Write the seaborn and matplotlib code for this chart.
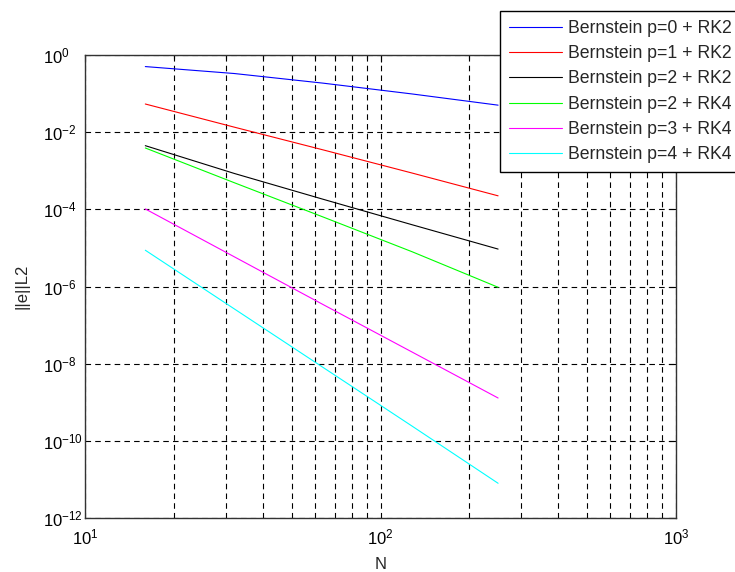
import numpy as np
import pandas as pd
import matplotlib
matplotlib.use('Agg')
import matplotlib.pyplot as plt
import matplotlib.ticker as mticker
import seaborn as sns

# grid sizes and L2 errors (log10 values)
N = [16, 32, 64, 128, 250]
labels = ['Bernstein p=0 + RK2', 'Bernstein p=1 + RK2', 'Bernstein p=2 + RK2',
          'Bernstein p=2 + RK4', 'Bernstein p=3 + RK4', 'Bernstein p=4 + RK4']
log_err_p0_rk2 = [-0.30, -0.48, -0.73, -1.01, -1.30]
log_err_p1_rk2 = [-1.27, -1.87, -2.46, -3.06, -3.65]
log_err_p2_rk2 = [-2.35, -3.07, -3.74, -4.40, -5.03]
log_err_p2_rk4 = [-2.41, -3.31, -4.20, -5.10, -6.02]
log_err_p3_rk4 = [-3.99, -5.23, -6.47, -7.70, -8.89]
log_err_p4_rk4 = [-5.06, -6.58, -8.10, -9.62, -11.10]
colors = ['#0000ff', '#ff0000', '#000000', '#00ff00', '#ff00ff', '#00ffff']

series = [log_err_p0_rk2, log_err_p1_rk2, log_err_p2_rk2,
          log_err_p2_rk4, log_err_p3_rk4, log_err_p4_rk4]
rows = []
for lab, vals in zip(labels, series):
    for n, v in zip(N, vals):
        rows.append({'N': n, 'err': 10.0 ** v, 'method': lab})
df = pd.DataFrame(rows)

sns.set_style('white')
plt.rcParams['font.family'] = ['Liberation Sans', 'DejaVu Sans']
plt.rcParams['mathtext.fontset'] = 'custom'
plt.rcParams['mathtext.rm'] = 'Liberation Sans'
plt.rcParams['mathtext.it'] = 'Liberation Sans'
plt.rcParams['axes.unicode_minus'] = False
plt.rcParams['lines.scale_dashes'] = False

fig = plt.figure(figsize=(7.35, 5.72), dpi=100)
ax = fig.add_axes([85 / 735, 1 - 518 / 572, (676 - 85) / 735, (518 - 55) / 572])

sns.lineplot(data=df, x='N', y='err', hue='method', palette=dict(zip(labels, colors)),
             estimator=None, linewidth=0.8, ax=ax, legend=True)

ax.set_xscale('log')
ax.set_yscale('log')
ax.set_xlim(10, 1000)
ax.set_ylim(1e-12, 1)
ax.yaxis.set_major_locator(mticker.FixedLocator([10.0 ** k for k in range(-12, 1, 2)]))
ax.yaxis.set_minor_locator(mticker.NullLocator())
ax.xaxis.set_major_locator(mticker.LogLocator(base=10))
ax.xaxis.set_minor_locator(mticker.LogLocator(base=10, subs=np.arange(2, 10)))
ax.xaxis.set_minor_formatter(mticker.NullFormatter())

ax.grid(True, which='major', axis='both', color='black', linestyle=(0, (4, 3)), linewidth=0.8)
ax.grid(True, which='minor', axis='x', color='black', linestyle=(0, (4, 3)), linewidth=0.8)

ax.tick_params(which='both', direction='in', top=True, right=True, labelsize=12, colors='black')
ax.tick_params(which='major', length=5, width=0.8)
ax.tick_params(which='minor', length=3, width=0.8)
ax.tick_params(axis='x', which='major', pad=6.5)
ax.tick_params(axis='y', which='major', pad=30)
for t in ax.get_yticklabels():
    t.set_horizontalalignment('left')
for sp in ax.spines.values():
    sp.set_color('#333333')
    sp.set_linewidth(1.0)

ax.set_xlabel('N', fontsize=12, labelpad=7)
ax.set_ylabel('||e||L2', fontsize=12, labelpad=10)

handles, labs = ax.get_legend_handles_labels()
leg = fig.legend(handles, labs, loc='upper left', bbox_to_anchor=(500 / 735, 1 - 11 / 572),
                 frameon=True, fancybox=False, edgecolor='black', framealpha=1,
                 fontsize=12.7, handlelength=3.0, handletextpad=0.34, labelspacing=0.47,
                 borderpad=0.5, borderaxespad=0)
leg.get_frame().set_linewidth(1.0)
if ax.get_legend() is not None:
    ax.get_legend().remove()

fig.savefig('out.png', dpi=100)
